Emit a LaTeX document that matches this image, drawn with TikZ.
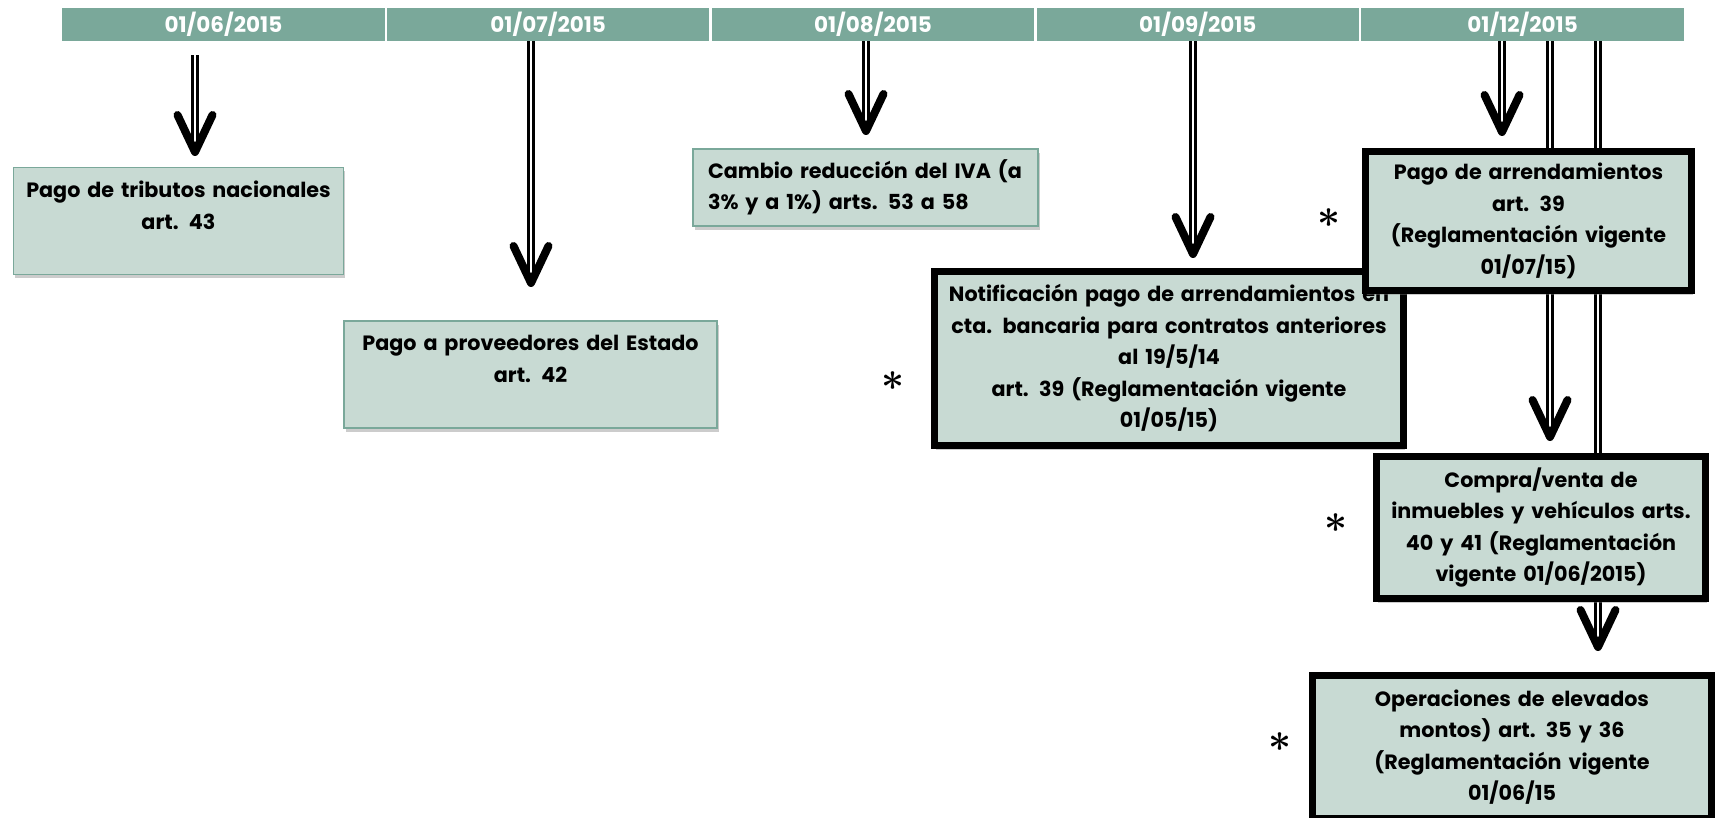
\documentclass[tikz,border=0pt]{standalone}
\usepackage{fontspec}
\usepackage{graphicx}
\setmainfont{Poppins}
\usetikzlibrary{positioning,calc,shadows}
\definecolor{hdrgreen}{RGB}{122,168,154}
\definecolor{boxgreen}{RGB}{200,218,211}

\begin{document}
\begin{tikzpicture}[x=1pt, y=-1pt,
    date/.style={rectangle, fill=hdrgreen, text=white, font=\bfseries\fontsize{21.5}{24}\selectfont, minimum width=322.4pt, minimum height=33pt, inner sep=0pt},
    block/.style={rectangle, draw=hdrgreen, line width=1.5pt, fill=boxgreen, align=center, inner sep=0pt, font=\bfseries\fontsize{20.7}{31.5}\selectfont, drop shadow={shadow xshift=1.5pt, shadow yshift=-4pt, opacity=0.4}},
    keyblock/.style={block, draw=black, line width=7pt},
    shaft/.style={draw=black, double=white, line width=2.6pt, double distance=2.4pt, shorten >=5pt},
    head/.style={draw=black, line width=8pt, line cap=round, line join=round,
        preaction={draw=black!60, opacity=0.3, transform canvas={xshift=-2pt, yshift=-3pt}}},
    note/.style={inner sep=0pt}]

\useasboundingbox (0,0) rectangle (1718,818);

% Dates
\node [date, anchor=north west] (d1) at (62,8) {01/06/2015};
\node [date, right=2pt of d1] (d2) {01/07/2015};
\node [date, right=2pt of d2] (d3) {01/08/2015};
\node [date, right=2pt of d3] (d4) {01/09/2015};
\node [date, right=2pt of d4] (d5) {01/12/2015};

% Arrow tips
\coordinate (t1) at (195,152);
\coordinate (t2) at (531,283);
\coordinate (t3) at (866,131);
\coordinate (t4) at (1193,254);
\coordinate (t5) at (1502,132);
\coordinate (t6) at (1550,437);
\coordinate (t7) at (1598,647);

% Arrows
\draw[shaft] ($(d1.south -| t1)+(0,14)$) -- (t1);
\draw[head] ($(t1)+(-17.5,-37)$) -- (t1) -- ($(t1)+(17.5,-37)$);
\draw[shaft] (d2.south -| t2) -- (t2);
\draw[head] ($(t2)+(-17.5,-37)$) -- (t2) -- ($(t2)+(17.5,-37)$);
\draw[shaft] (d3.south -| t3) -- (t3);
\draw[head] ($(t3)+(-17.5,-37)$) -- (t3) -- ($(t3)+(17.5,-37)$);
\draw[shaft] (d4.south -| t4) -- (t4);
\draw[head] ($(t4)+(-17.5,-37)$) -- (t4) -- ($(t4)+(17.5,-37)$);
\draw[shaft] (d5.south -| t5) -- (t5);
\draw[head] ($(t5)+(-17.5,-37)$) -- (t5) -- ($(t5)+(17.5,-37)$);
\draw[shaft] (d5.south -| t6) -- (t6);
\draw[head] ($(t6)+(-17.5,-37)$) -- (t6) -- ($(t6)+(17.5,-37)$);
\draw[shaft] (d5.south -| t7) -- (t7);
\draw[head] ($(t7)+(-17.5,-37)$) -- (t7) -- ($(t7)+(17.5,-37)$);

% Boxes
\node [block, minimum width=330pt, minimum height=107pt, text width=320pt] (tributos) at (178.5,221) {Pago de tributos nacionales\\art. 43\\\mbox{}};
\node [block, minimum width=373pt, minimum height=107pt, text width=363pt] (proveedores) at (530.5,374.5) {Pago a proveedores del Estado\\art. 42\\\mbox{}};
\node [block, align=left, minimum width=345pt, minimum height=77pt, text width=315pt] (iva) at (865.5,187.5) {Cambio reducción del IVA (a\\3\% y a 1\%) arts. 53 a 58};
\node [keyblock, minimum width=469pt, minimum height=174pt, text width=455pt] (notificacion) at (1169,358.5) {Notificación pago de arrendamientos en\\cta. bancaria para contratos anteriores\\al 19/5/14\\art. 39 (Reglamentación vigente\\01/05/15)};
\node [keyblock, minimum width=326pt, minimum height=139pt, text width=315pt] (arrendamientos) at (1528.5,221) {Pago de arrendamientos\\art. 39\\(Reglamentación vigente\\01/07/15)};
\node [keyblock, minimum width=329pt, minimum height=142pt, text width=318pt] (compraventa) at (1541,527.5) {Compra/venta de\\inmuebles y vehículos arts.\\40 y 41 (Reglamentación\\vigente 01/06/2015)};
\node [keyblock, minimum width=399pt, minimum height=143pt, text width=388pt] (montos) at (1512,747) {Operaciones de elevados\\montos) art. 35 y 36\\(Reglamentación vigente\\01/06/15};

% Marks
\node [note] (s1) at (893,381) {\scalebox{4}{\boldmath$\ast$}};
\node [note] (s2) at (1329,218) {\scalebox{4}{\boldmath$\ast$}};
\node [note] (s3) at (1336,523) {\scalebox{4}{\boldmath$\ast$}};
\node [note] (s4) at (1280,742) {\scalebox{4}{\boldmath$\ast$}};

\end{tikzpicture}
\end{document}
